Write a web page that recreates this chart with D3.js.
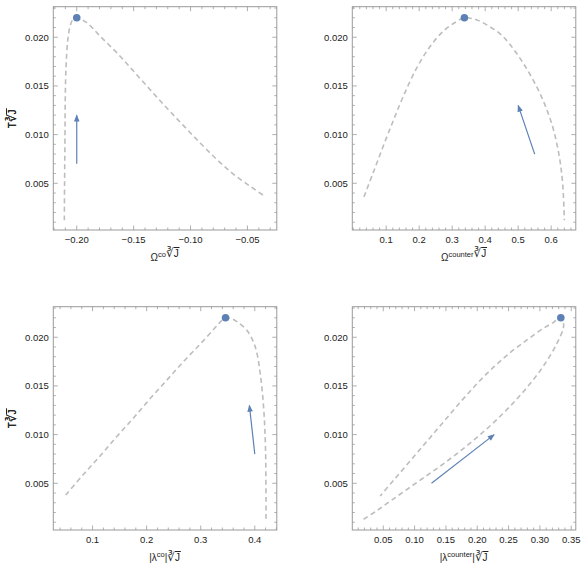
<!DOCTYPE html>
<html>
<head>
<meta charset="utf-8">
<script src="https://cdn.jsdelivr.net/npm/d3@7"></script>
<style>
  body { margin: 0; background: #fff; }
  text { font-family: "Liberation Sans", Arial, sans-serif; fill: #222; }
</style>
</head>
<body>
<svg id="chart" width="581" height="581"></svg>
<script>
// ---- data ----
// top left: T vs Omega(co)
var omegaCoX = [-0.2109, -0.2107, -0.2103, -0.2101, -0.2094, -0.2079, -0.2059, -0.2035, -0.2000, -0.1912, -0.1794,
                -0.1647, -0.1500, -0.1354, -0.1206, -0.1060, -0.0912, -0.0765, -0.0619, -0.0471, -0.0339];
var omegaCoY = [0.0012, 0.0050, 0.0101, 0.0136, 0.0170, 0.0197, 0.0211, 0.0218, 0.0220, 0.0215, 0.0201,
                0.0184, 0.0165, 0.0146, 0.0127, 0.0109, 0.0091, 0.0074, 0.0059, 0.00465, 0.0036];
// top right: T vs Omega(counter)
var omegaCounterX = [0.0326, 0.0607, 0.0909, 0.1211, 0.1514, 0.1918, 0.2320, 0.2722, 0.3127, 0.3370, 0.3730,
                     0.4133, 0.4535, 0.4940, 0.5340, 0.5743, 0.6045, 0.6248, 0.6347, 0.6400];
var omegaCounterY = [0.0036, 0.0061, 0.0088, 0.0114, 0.0139, 0.0168, 0.0190, 0.0206, 0.0216, 0.0220, 0.0218,
                     0.0211, 0.0201, 0.0184, 0.0163, 0.0136, 0.0108, 0.0077, 0.0050, 0.0012];
// bottom left: T vs |lambda(co)|
var lambdaCoX = [0.0504, 0.0830, 0.1139, 0.1448, 0.1756, 0.2065, 0.2374, 0.2681, 0.2991, 0.3237, 0.3350, 0.3459,
                 0.3570, 0.3670, 0.3856, 0.4009, 0.4102, 0.4163, 0.4194, 0.4205, 0.4207];
var lambdaCoY = [0.0038, 0.0059, 0.0078, 0.0098, 0.0117, 0.0137, 0.0156, 0.0175, 0.0193, 0.0208, 0.0215, 0.0220,
                 0.0219, 0.0216, 0.0207, 0.0190, 0.0162, 0.0128, 0.0094, 0.0060, 0.0012];
// bottom right: T vs |lambda(counter)| (lower branch, tip, upper branch)
var lambdaCounterX = [0.0186, 0.0400, 0.0664, 0.0930, 0.1196, 0.1460, 0.1726, 0.1992, 0.2256, 0.2522, 0.2788,
                      0.3052, 0.3266, 0.3375, 0.3370, 0.3334, 0.3270, 0.3212, 0.3052, 0.2788, 0.2522, 0.2256,
                      0.1992, 0.1726, 0.1460, 0.1196, 0.0930, 0.0664, 0.0452];
var lambdaCounterY = [0.0013, 0.0022, 0.0034, 0.0046, 0.0058, 0.0070, 0.0083, 0.0097, 0.0112, 0.0129, 0.0148,
                      0.0170, 0.0193, 0.0210, 0.0217, 0.0220, 0.0218, 0.0215, 0.0209, 0.0197, 0.0184, 0.0169,
                      0.0152, 0.0133, 0.0113, 0.0093, 0.0073, 0.0053, 0.0037];

// marked points and arrows
var peakX = [-0.2000, 0.3370, 0.3459, 0.3334];
var peakY = [0.0220, 0.0220, 0.0220, 0.0220];
var arrowX0 = [-0.200, 0.550, 0.400, 0.127];
var arrowY0 = [0.0070, 0.0080, 0.0080, 0.0050];
var arrowX1 = [-0.200, 0.500, 0.390, 0.227];
var arrowY1 = [0.0120, 0.0130, 0.0130, 0.0100];

// ticks
var yTicks = [0.005, 0.010, 0.015, 0.020];
var xTicksList = [[-0.20, -0.15, -0.10, -0.05], [0.1, 0.2, 0.3, 0.4, 0.5, 0.6],
                  [0.1, 0.2, 0.3, 0.4], [0.05, 0.10, 0.15, 0.20, 0.25, 0.30, 0.35]];

// ---- layout ----
var svg = d3.select("#chart");
var blue = "#5e81b5";

var panels = [
  { xs: omegaCoX, ys: omegaCoY, left: 53.3, top: 6.7, xDomain: [-0.2206, -0.0242], minor: 0.01, fmt: ".2f",
    pre: "\u03A9", sup: "co", bars: false },
  { xs: omegaCounterX, ys: omegaCounterY, left: 352.3, top: 6.7, xDomain: [-0.0027, 0.6746], minor: 0.02, fmt: ".1f",
    pre: "\u03A9", sup: "counter", bars: false },
  { xs: lambdaCoX, ys: lambdaCoY, left: 53.3, top: 306.7, xDomain: [0.0274, 0.4407], minor: 0.02, fmt: ".1f",
    pre: "|\u03BB", sup: "co", bars: true },
  { xs: lambdaCounterX, ys: lambdaCounterY, left: 352.3, top: 306.7, xDomain: [0.0006, 0.3573], minor: 0.01, fmt: ".2f",
    pre: "|\u03BB", sup: "counter", bars: true }
];
var W = 223.5, H = 223.3;
var yDomain = [0.0002, 0.02314];

var defs = svg.append("defs");
defs.append("marker")
    .attr("id", "head")
    .attr("markerUnits", "userSpaceOnUse")
    .attr("viewBox", "0 0 10 10")
    .attr("refX", 9).attr("refY", 5)
    .attr("markerWidth", 8).attr("markerHeight", 7)
    .attr("orient", "auto")
  .append("path")
    .attr("d", "M0,1 L10,5 L0,9 Z")
    .attr("fill", blue);

function minorTicks(domain, step) {
  var out = [];
  var start = Math.ceil(domain[0] / step - 1e-9);
  for (var k = start; k * step <= domain[1] + 1e-12; k++) out.push(+(k * step).toFixed(6));
  return out;
}

// cube-root-of-J piece of the axis titles
function addRootJ(t) {
  t.append("tspan").attr("font-size", 12).attr("font-family", "DejaVu Sans").text("\u221B");
  t.append("tspan").attr("text-decoration", "overline").text("J\u200A");
}

panels.forEach(function(p, i) {
  var x = d3.scaleLinear().domain(p.xDomain).range([p.left, p.left + W]);
  var y = d3.scaleLinear().domain(yDomain).range([p.top + H, p.top]);
  var g = svg.append("g");

  // frame
  g.append("rect")
      .attr("x", p.left).attr("y", p.top)
      .attr("width", W).attr("height", H)
      .attr("fill", "none").attr("stroke", "#9a9a9a").attr("stroke-width", 1);

  // ticks on all four sides
  var xMaj = xTicksList[i];
  var xMin = minorTicks(p.xDomain, p.minor);
  var yMin = minorTicks(yDomain, 0.001);
  var tk = g.append("g").attr("stroke", "#9a9a9a").attr("stroke-width", 0.8);
  xMin.forEach(function(v) {
    var major = xMaj.some(function(m) { return Math.abs(m - v) < 1e-6; });
    var len = major ? 4.5 : 2.5;
    tk.append("line").attr("x1", x(v)).attr("x2", x(v)).attr("y1", p.top + H).attr("y2", p.top + H - len);
    tk.append("line").attr("x1", x(v)).attr("x2", x(v)).attr("y1", p.top).attr("y2", p.top + len);
  });
  yMin.forEach(function(v) {
    var major = yTicks.some(function(m) { return Math.abs(m - v) < 1e-6; });
    var len = major ? 4.5 : 2.5;
    tk.append("line").attr("y1", y(v)).attr("y2", y(v)).attr("x1", p.left).attr("x2", p.left + len);
    tk.append("line").attr("y1", y(v)).attr("y2", y(v)).attr("x1", p.left + W).attr("x2", p.left + W - len);
  });

  // tick labels
  var fx = d3.format(p.fmt), fy = d3.format(".3f");
  g.selectAll(".xl").data(xMaj).enter().append("text")
      .attr("x", function(d) { return x(d); })
      .attr("y", p.top + H + 13)
      .attr("text-anchor", "middle")
      .attr("font-size", 9.5)
      .text(function(d) { return fx(d); });
  g.selectAll(".yl").data(yTicks).enter().append("text")
      .attr("x", p.left - 4.5)
      .attr("y", function(d) { return y(d) + 3.3; })
      .attr("text-anchor", "end")
      .attr("font-size", 9.5)
      .text(function(d) { return fy(d); });

  // axis labels
  var xl = g.append("text")
      .attr("x", p.left + W / 2)
      .attr("y", p.top + H + 31)
      .attr("text-anchor", "middle")
      .attr("font-size", 10);
  xl.append("tspan").text(p.pre);
  xl.append("tspan").attr("dy", -4).attr("font-size", 7.5).text(p.sup);
  xl.append("tspan").attr("dy", 4).text(p.bars ? "|" : "");
  addRootJ(xl);

  var yl = g.append("text")
      .attr("transform", "translate(16," + (p.top + H / 2) + ") rotate(-90)")
      .attr("text-anchor", "middle")
      .attr("font-size", 10);
  yl.append("tspan").text("T");
  addRootJ(yl);

  // dashed curve
  var pts = p.xs.map(function(v, k) { return [v, p.ys[k]]; });
  var line = d3.line()
      .x(function(d) { return x(d[0]); })
      .y(function(d) { return y(d[1]); })
      .curve(d3.curveCatmullRom.alpha(0.5));
  g.append("path")
      .attr("d", line(pts))
      .attr("fill", "none")
      .attr("stroke", "#bdbdbd")
      .attr("stroke-width", 1.6)
      .attr("stroke-dasharray", "5,3.5");

  // peak dot
  g.append("circle")
      .attr("cx", x(peakX[i])).attr("cy", y(peakY[i]))
      .attr("r", 3.8)
      .attr("fill", blue);

  // direction arrow
  g.append("line")
      .attr("x1", x(arrowX0[i])).attr("y1", y(arrowY0[i]))
      .attr("x2", x(arrowX1[i])).attr("y2", y(arrowY1[i]))
      .attr("stroke", blue)
      .attr("stroke-width", 1.2)
      .attr("marker-end", "url(#head)");
});
</script>
</body>
</html>
